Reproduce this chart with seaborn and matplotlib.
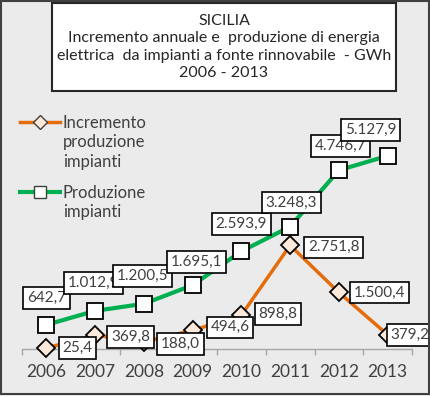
import matplotlib
matplotlib.use("Agg")
import matplotlib.pyplot as plt
import seaborn as sns
import pandas as pd
from matplotlib.lines import Line2D
from matplotlib.patches import Rectangle

# ---------------- data ----------------
years = [2006, 2007, 2008, 2009, 2010, 2011, 2012, 2013]
produzione = [642.7, 1012.9, 1200.5, 1695.1, 2593.9, 3248.3, 4746.7, 5127.9]
incremento = [25.4, 369.8, 188.0, 494.6, 898.8, 2751.8, 1500.4, 379.2]
serie_incremento = "Incremento\nproduzione\nimpianti"
serie_produzione = "Produzione\nimpianti"
titolo = ("SICILIA\nIncremento annuale e  produzione di energia\n"
          "elettrica  da impianti a fonte rinnovabile  - GWh\n2006 - 2013")

# ---------------- layout / style ----------------
W, H = 431, 396
DPI = 100
GREEN = "#00B050"
ORANGE = "#E46C0A"
DIAMOND_FILL = "#FDE9D9"
TEXT = "#404040"
BG = "#EBEBEB"
FONT = ["Lato", "DejaVu Sans"]

# label offsets in pixels (dx, dy) relative to point
prod_off = [(0, 27), (-2, 28), (-1, 28), (4, 23), (0, 27), (1, 24), (2, 24), (-17, 26)]
inc_off = [(16, 0), (16, -2), (17, -2), (18, 3), (17, 1), (18, -2), (15, 0), (3, 0)]


def it_fmt(v):
    s = f"{v:,.1f}"
    return s.replace(",", "X").replace(".", ",").replace("X", ".")


plt.rcParams["font.family"] = FONT
fig = plt.figure(figsize=(W / DPI, H / DPI), dpi=DPI, facecolor=BG)

def fx(px):
    return px / W

def fy(py):
    return 1 - py / H

ax_left, ax_right, ax_bottom_px, ax_top_px = 22, 412, 349, 123
ax = fig.add_axes([fx(ax_left), fy(ax_bottom_px), fx(ax_right - ax_left),
                   (ax_bottom_px - ax_top_px) / H])
ax.set_facecolor("none")

df = pd.DataFrame({"anno": years, "produzione": produzione, "incremento": incremento})

sns.lineplot(data=df, x="anno", y="produzione", ax=ax, color=GREEN, linewidth=3,
             marker="s", markersize=12, markerfacecolor="white",
             markeredgecolor="black", markeredgewidth=1.3, zorder=3, clip_on=False)
sns.lineplot(data=df, x="anno", y="incremento", ax=ax, color=ORANGE, linewidth=2.5,
             marker="D", markersize=9, markerfacecolor=DIAMOND_FILL,
             markeredgecolor="black", markeredgewidth=1.3, zorder=3, clip_on=False)

ax.set_xlim(years[0] - 0.5, years[-1] + 0.5)
ax.set_ylim(0, 6000)
ax.set_xlabel("")
ax.set_ylabel("")
ax.set_yticks([])
for s in ["top", "right", "left"]:
    ax.spines[s].set_visible(False)
ax.spines["bottom"].set_color("#A6A6A6")
ax.spines["bottom"].set_linewidth(1.0)
ax.spines["bottom"].set_zorder(1)

ax.set_xticks(years)
ax.set_xticklabels([str(y) for y in years], fontsize=12.5, color=TEXT)
ax.tick_params(axis="x", which="major", length=0, pad=11)
ax.set_xticks([y + 0.5 for y in [years[0] - 1] + years], minor=True)
ax.tick_params(axis="x", which="minor", length=4, color="#A6A6A6", width=1)

bbox = dict(boxstyle="square,pad=0.25", facecolor="white", edgecolor="black", linewidth=1.2)
for x, v, (dx, dy) in zip(years, produzione, prod_off):
    ax.annotate(it_fmt(v), (x, v), xytext=(dx * 72 / DPI, dy * 72 / DPI),
                textcoords="offset points", ha="center", va="center",
                fontsize=11, color=TEXT, bbox=bbox, zorder=5)
for x, v, (dx, dy) in zip(years, incremento, inc_off):
    ax.annotate(it_fmt(v), (x, v), xytext=(dx * 72 / DPI, dy * 72 / DPI),
                textcoords="offset points", ha="left", va="center",
                fontsize=11, color=TEXT, bbox=bbox, zorder=5)

# title box
fig.add_artist(Rectangle((fx(52), fy(91)), fx(396 - 52), (91 - 3) / H,
                         transform=fig.transFigure, facecolor="white",
                         edgecolor="#262626", linewidth=1.5, zorder=1))
fig.text(fx(224), fy(47), titolo, ha="center", va="center", fontsize=11.5,
         color="#262626", linespacing=1.3, zorder=2)

# legend (manual, handles aligned to first text line)
for y_line, y_text, color, mk, mfc, ms, lw, label in [
        (122, 142.5, ORANGE, "D", DIAMOND_FILL, 7, 2.5, serie_incremento),
        (192, 202.5, GREEN, "s", "white", 9, 3, serie_produzione)]:
    fig.add_artist(Line2D([fx(20), fx(60)], [fy(y_line), fy(y_line)],
                          transform=fig.transFigure, color=color, linewidth=lw))
    fig.add_artist(Line2D([fx(40)], [fy(y_line)], transform=fig.transFigure,
                          marker=mk, markersize=ms, markerfacecolor=mfc,
                          markeredgecolor="#404040", markeredgewidth=1.0, linestyle="none"))
    fig.text(fx(63), fy(y_text), label, ha="left", va="center", fontsize=12,
             color=TEXT, linespacing=1.25)

# outer frame
fig.add_artist(Rectangle((0.002, 0.004), 0.994, 0.994, transform=fig.transFigure,
                         facecolor="none", edgecolor="#404040", linewidth=1.5))

fig.savefig("out.png", dpi=DPI, facecolor=BG)
